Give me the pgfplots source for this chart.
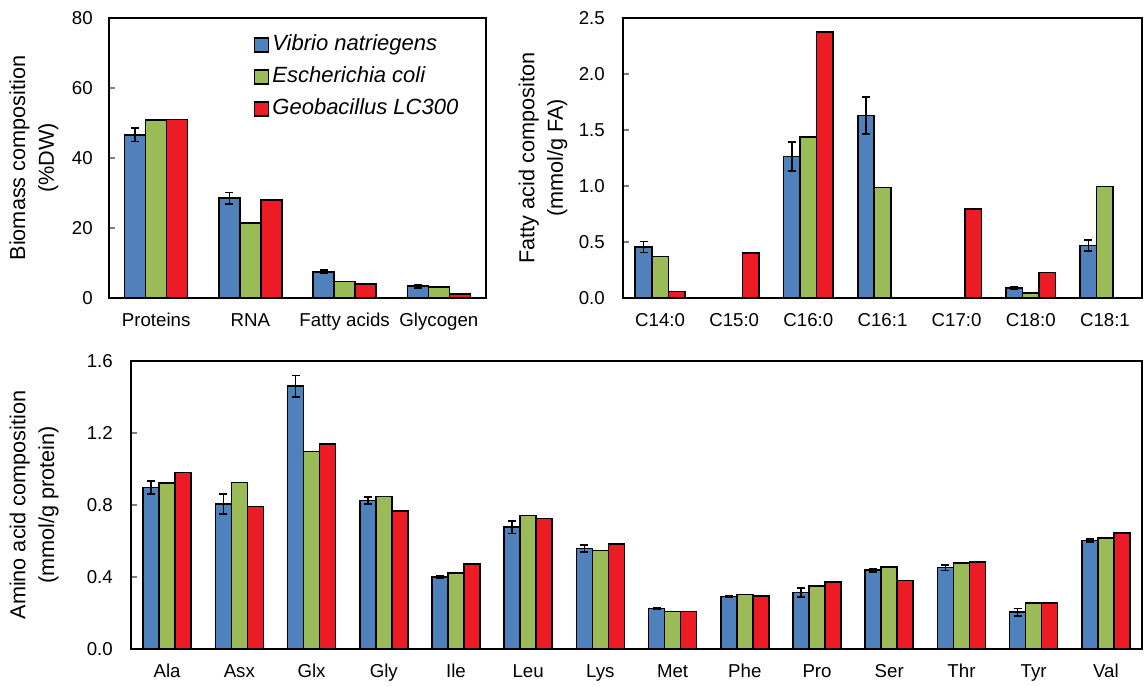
\documentclass[border=0pt]{standalone}
\usepackage{fontspec}
\setmainfont{Liberation Sans}
\usepackage{pgfplots}
\pgfplotsset{compat=1.18}

\definecolor{vblue}{HTML}{4F81BD}
\definecolor{egreen}{HTML}{9BBB59}
\definecolor{gred}{HTML}{ED1C24}

% 1 px of the reference = 0.75pt
\pgfplotsset{
  panel/.style={
    scale only axis,
    axis line style={line width=1.2pt},
    ybar=0pt,
    ymin=0,
    xtick style={draw=none},
    ytick pos=left,
    ytick style={line width=1.2pt},
    major tick length=4.5pt,
    tick label style={font=\fontsize{14}{16}\selectfont},
    /pgf/number format/assume math mode=true,
    xticklabel style={anchor=base, yshift=-17pt, inner sep=0pt},
    yticklabel style={anchor=east, inner sep=0pt, xshift=-12pt},
    ylabel style={font=\fontsize{16.25}{21.5}\selectfont, align=center, anchor=south},
  },
  onedec/.style={
    yticklabel style={/pgf/number format/fixed,
      /pgf/number format/fixed zerofill,
      /pgf/number format/precision=1, xshift=-1.5pt}},
  bars/.style={draw=black, line width=1.2pt, fill=#1,
    legend image code/.code={\draw[##1, line width=1.2pt] (0pt,-5.25pt) rectangle (10.5pt,5.25pt);}},
  errs/.style={error bars/.cd, y dir=both, y explicit,
    error bar style={line width=1.2pt, black},
    error mark options={rotate=90, mark size=3pt, line width=1.2pt, black}},
}

\begin{document}
\begin{tikzpicture}
\path[use as bounding box] (0,0) rectangle (858pt,514.5pt);

% ---- biomass composition ----
\begin{axis}[panel,
  at={(81.75pt,291pt)}, anchor=south west,
  width=282.75pt, height=210pt,
  bar width=15.75pt,
  xmin=-0.5, xmax=3.5, ymax=80,
  xtick={0,1,2,3},
  ytick={0,20,40,60,80},
  xticklabels={Proteins,RNA,Fatty acids,Glycogen},
  ylabel={Biomass composition\\(\%DW)},
  ylabel style={at={(axis description cs:-0.122,0.5)}},
  legend style={at={(rel axis cs:0.372,0.962)}, anchor=north west,
    draw=none, fill=none, row sep=3.5pt,
    font=\itshape\fontsize{16.5}{19}\selectfont,
    nodes={inner sep=2.5pt, text height=12pt, text depth=3.5pt}},
  legend cell align=left,
]
\addplot[bars=vblue, errs] coordinates {
  (0,46.6) +- (0,1.9) (1,28.5) +- (0,1.6) (2,7.5) +- (0,0.5) (3,3.4) +- (0,0.5)};
\addlegendentry{Vibrio natriegens}
\addplot[bars=egreen] coordinates {(0,50.9) (1,21.5) (2,4.7) (3,3.2)};
\addlegendentry{Escherichia coli}
\addplot[bars=gred] coordinates {(0,51.0) (1,28.0) (2,4.0) (3,1.2)};
\addlegendentry{Geobacillus LC300}
\end{axis}

% ---- fatty acid composition ----
\begin{axis}[panel, onedec,
  at={(467.25pt,291pt)}, anchor=south west,
  width=389.25pt, height=210pt,
  bar width=12.4pt,
  xmin=-0.5, xmax=6.5, ymax=2.5,
  xtick={0,1,2,3,4,5,6},
  ytick={0,0.5,1,1.5,2,2.5},
  xticklabels={C14:0,C15:0,C16:0,C16:1,C17:0,C18:0,C18:1},
  ylabel={Fatty acid compositon\\(mmol/g FA)},
  ylabel style={at={(axis description cs:-0.098,0.5)}},
]
\addplot[bars=vblue, errs] coordinates {
  (0,0.455) +- (0,0.05) (2,1.265) +- (0,0.13) (3,1.628) +- (0,0.165)
  (5,0.089) +- (0,0.01) (6,0.467) +- (0,0.05)};
\addplot[bars=egreen] coordinates {(0,0.372) (2,1.437) (3,0.988) (5,0.045) (6,0.997)};
\addplot[bars=gred] coordinates {(0,0.057) (1,0.40) (2,2.375) (4,0.795) (5,0.229)};
\end{axis}

% ---- amino acid composition ----
\begin{axis}[panel, onedec,
  at={(98.25pt,27.75pt)}, anchor=south west,
  width=758.25pt, height=216pt,
  bar width=12pt,
  xmin=-0.5, xmax=13.5, ymax=1.6,
  xtick={0,...,13},
  ytick={0,0.4,0.8,1.2,1.6},
  xticklabels={Ala,Asx,Glx,Gly,Ile,Leu,Lys,Met,Phe,Pro,Ser,Thr,Tyr,Val},
  ylabel={Amino acid composition\\(mmol/g protein)},
  ylabel style={at={(axis description cs:-0.067,0.5)}},
]
\addplot[bars=vblue, errs] coordinates {
  (0,0.897) +- (0,0.035) (1,0.805) +- (0,0.055) (2,1.460) +- (0,0.06)
  (3,0.826) +- (0,0.02) (4,0.401) +- (0,0.005) (5,0.677) +- (0,0.035)
  (6,0.559) +- (0,0.02) (7,0.226) +- (0,0.005) (8,0.291) +- (0,0.003)
  (9,0.313) +- (0,0.025) (10,0.438) +- (0,0.01) (11,0.452) +- (0,0.015)
  (12,0.204) +- (0,0.02) (13,0.603) +- (0,0.008)};
\addplot[bars=egreen] coordinates {
  (0,0.923) (1,0.925) (2,1.098) (3,0.848) (4,0.423) (5,0.741) (6,0.548)
  (7,0.208) (8,0.302) (9,0.351) (10,0.456) (11,0.478) (12,0.257) (13,0.616)};
\addplot[bars=gred] coordinates {
  (0,0.980) (1,0.791) (2,1.138) (3,0.767) (4,0.473) (5,0.725) (6,0.583)
  (7,0.208) (8,0.296) (9,0.373) (10,0.381) (11,0.482) (12,0.254) (13,0.646)};
\end{axis}
\end{tikzpicture}
\end{document}
